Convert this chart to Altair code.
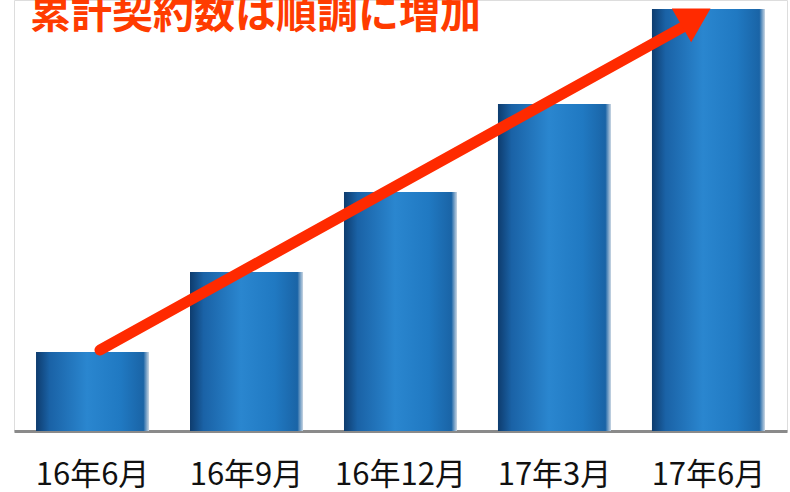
import altair as alt
import pandas as pd

categories = ["16年6月", "16年9月", "16年12月", "17年3月", "17年6月"]
values = [79, 159, 239, 327, 422]
title_text = "累計契約数は順調に増加"

df = pd.DataFrame({"period": categories, "count": values})

grad = alt.Gradient(
    gradient="linear",
    x1=0, x2=1, y1=0, y2=0,
    stops=[
        alt.GradientStop(color="#0e3c6e", offset=0),
        alt.GradientStop(color="#1a62a6", offset=0.12),
        alt.GradientStop(color="#2a86cf", offset=0.45),
        alt.GradientStop(color="#2079c2", offset=0.75),
        alt.GradientStop(color="#1a64a6", offset=0.95),
        alt.GradientStop(color="#c9d6e3", offset=1),
    ],
)

x_enc = alt.X(
    "period:N",
    sort=categories,
    title=None,
    scale=alt.Scale(paddingInner=0.266, paddingOuter=0.143),
    axis=alt.Axis(
        labelAngle=0,
        labelFontSize=31,
        labelFont="Noto Sans CJK JP",
        labelColor="#111111",
        labelPadding=29,
        ticks=False,
        domainColor="#8a8a8a",
        domainWidth=3,
        grid=False,
    ),
)
y_enc = alt.Y("count:Q", axis=None, scale=alt.Scale(domain=[0, 431], nice=False))

bars = alt.Chart(df).mark_bar(color=grad).encode(x=x_enc, y=y_enc)

one = alt.Data(values=[{"t": title_text}])

arrow_line = alt.Chart(one).mark_rule(
    color="#ff2a00", strokeWidth=11, strokeCap="round"
).encode(
    x=alt.value(86), y=alt.value(350),
    x2=alt.value(678), y2=alt.value(22),
)

arrow_head = alt.Chart(one).mark_point(
    shape="triangle-up", filled=True, color="#ff2a00", opacity=1,
    size=1500, angle=60,
).encode(x=alt.value(682), y=alt.value(17))

title = alt.Chart(one).mark_text(
    align="left", baseline="middle", fontSize=41, fontWeight="bold",
    font="Noto Sans CJK JP", color="#ff3c00",
).encode(x=alt.value(16), y=alt.value(16), text="t:N")

chart = alt.layer(bars, arrow_line, arrow_head, title).properties(
    width=773,
    height=431,
    padding={"left": 14, "top": 0, "right": 3, "bottom": 61},
    autosize=alt.AutoSizeParams(type="none"),
).configure_view(stroke=None, strokeWidth=0).configure(background="white")

chart.save("out.html", embed_options={"renderer": "svg", "actions": False})
